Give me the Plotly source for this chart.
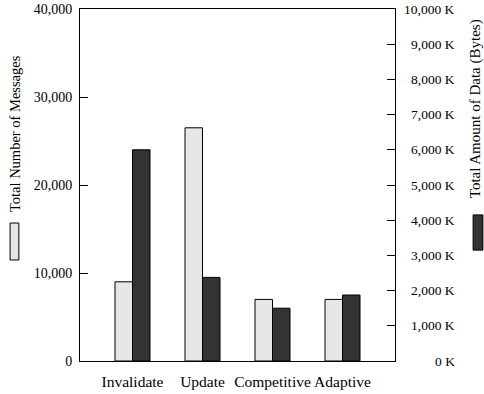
import plotly.graph_objects as go

protocols = ["Invalidate", "Update", "Competitive", "Adaptive"]
messages = [9000, 26500, 7000, 7000]          # total number of messages
data_kbytes = [6000, 2375, 1500, 1875]        # total amount of data, in K bytes

left_ticks = [0, 10000, 20000, 30000, 40000]
right_ticks = list(range(0, 10001, 1000))
right_labels = [f"{v:,} K" for v in right_ticks]

serif = "Liberation Serif, Times New Roman, serif"
light = "#e6e6e6"
dark = "#333333"

fig = go.Figure()
fig.add_trace(go.Bar(
    x=protocols, y=messages, yaxis="y",
    width=0.25, offset=-0.25,
    marker=dict(color=light, line=dict(color="black", width=1)),
    name="Total Number of Messages",
))
fig.add_trace(go.Bar(
    x=protocols, y=data_kbytes, yaxis="y2",
    width=0.25, offset=0,
    marker=dict(color=dark, line=dict(color="black", width=1)),
    name="Total Amount of Data (Bytes)",
))

axis_common = dict(
    showline=True, linecolor="black", linewidth=1,
    ticks="inside", ticklen=8, tickcolor="black", tickwidth=1,
    showgrid=False, zeroline=False, automargin=False,
    tickfont=dict(family=serif, size=14, color="black"),
)

fig.update_layout(
    width=484, height=394,
    margin=dict(l=80, r=89, t=9, b=33),
    paper_bgcolor="white", plot_bgcolor="white",
    showlegend=False,
    barmode="overlay",
    xaxis=dict(
        range=[-0.75, 3.75], showline=True, mirror=True, linecolor="black",
        linewidth=1, ticks="", showgrid=False, zeroline=False,
        tickangle=0, automargin=False, ticklabelstandoff=6,
        tickfont=dict(family=serif, size=15.5, color="black"),
    ),
    yaxis=dict(range=[0, 40000], tickvals=left_ticks,
               tickformat=",d", ticklabelstandoff=4, **axis_common),
    yaxis2=dict(range=[0, 10000], tickvals=right_ticks, showticklabels=False,
                overlaying="y", side="right", **axis_common),
)

# Right-axis labels, right-aligned in a column beside the axis
for v, lab in zip(right_ticks, right_labels):
    fig.add_annotation(
        text=lab, xref="paper", yref="y2", x=1.196, y=v,
        xanchor="right", yanchor="middle", showarrow=False,
        font=dict(family=serif, size=13.5, color="black"),
    )

# Axis titles with their legend swatches underneath
fig.add_annotation(
    text="Total Number of Messages", xref="paper", yref="paper",
    x=-0.206, y=0.645, textangle=-90, showarrow=False,
    xanchor="center", yanchor="middle",
    font=dict(family=serif, size=14.5, color="black"),
)
fig.add_annotation(
    text="Total Amount of Data (Bytes)", xref="paper", yref="paper",
    x=1.258, y=0.716, textangle=-90, showarrow=False,
    xanchor="center", yanchor="middle",
    font=dict(family=serif, size=15, color="black"),
)
fig.add_shape(type="rect", xref="paper", yref="paper",
              x0=-0.222, x1=-0.194, y0=0.287, y1=0.392,
              fillcolor=light, line=dict(color="black", width=1))
fig.add_shape(type="rect", xref="paper", yref="paper",
              x0=1.248, x1=1.279, y0=0.315, y1=0.415,
              fillcolor=dark, line=dict(color="black", width=1))

fig.write_html("out.html")
